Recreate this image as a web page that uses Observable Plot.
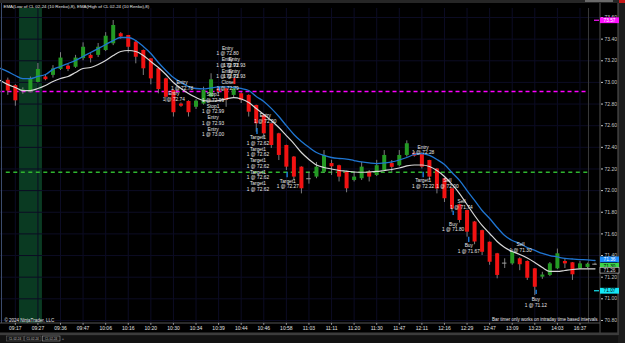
<!DOCTYPE html>
<html><head><meta charset="utf-8">
<script src="https://cdn.jsdelivr.net/npm/d3@7"></script>
<script src="https://cdn.jsdelivr.net/npm/@observablehq/plot@0.6"></script>
<style>
html,body{margin:0;padding:0;background:#000;}
#chart{width:625px;height:343px;overflow:hidden;}
svg{display:block;}
</style></head><body><div id="chart"></div>
<script>
// ---------- data ----------
const barOpen = [73.02,72.97,72.92,72.91,73.00,73.05,73.065,73.12,73.15,73.14,73.22,73.25,73.25,73.295,73.357,73.45,73.434,73.372,73.295,73.218,73.126,73.033,72.925,72.80,72.824,72.77,72.80,72.863,72.94,72.94,72.88,72.895,72.88,72.787,72.694,72.617,72.525,72.417,72.31,72.217,72.11,72.125,72.17,72.25,72.23,72.17,72.094,72.11,72.17,72.14,72.186,72.25,72.23,72.325,72.345,72.34,72.278,72.2,72.11,72.017,71.87,71.816,71.71,71.63,71.523,71.416,71.33,71.323,71.37,71.345,71.277,71.2,71.216,71.277,71.345,71.333,71.277,71.29,71.32];
const barClose = [72.92,72.83,72.93,73.03,73.12,73.025,73.125,73.225,73.12,73.225,73.325,73.22,73.325,73.427,73.526,73.42,73.325,73.233,73.126,73.033,72.934,72.863,72.72,72.78,72.72,72.827,72.925,73.024,72.91,72.833,72.94,72.833,72.725,72.617,72.525,72.417,72.325,72.217,72.125,72.017,72.11,72.217,72.325,72.22,72.125,72.017,72.125,72.217,72.125,72.23,72.325,72.215,72.325,72.433,72.318,72.217,72.125,72.015,71.925,71.83,71.724,71.616,71.525,71.43,71.338,71.216,71.33,71.43,71.315,71.19,71.107,71.22,71.323,71.416,71.323,71.222,71.323,71.32,71.32];
const barHigh = [73.04,72.98,72.95,73.05,73.175,73.07,73.155,73.275,73.165,73.25,73.366,73.265,73.36,73.46,73.572,73.46,73.434,73.387,73.30,73.22,73.13,73.04,72.93,72.81,72.83,72.84,72.956,73.08,72.956,72.945,72.96,72.905,72.885,72.79,72.70,72.62,72.53,72.42,72.315,72.22,72.17,72.26,72.37,72.28,72.235,72.175,72.17,72.26,72.186,72.28,72.37,72.278,72.37,72.46,72.36,72.35,72.28,72.205,72.115,72.02,71.875,71.82,71.715,71.635,71.525,71.42,71.37,71.455,71.38,71.35,71.28,71.245,71.335,71.46,71.37,71.335,71.345,71.33,71.33];
const barLow = [72.88,72.78,72.89,72.905,72.995,73.015,73.04,73.11,73.10,73.13,73.20,73.18,73.23,73.285,73.34,73.40,73.27,73.172,73.064,72.978,72.895,72.817,72.68,72.77,72.68,72.75,72.79,72.86,72.895,72.77,72.86,72.805,72.68,72.54,72.48,72.39,72.278,72.186,72.094,71.97,72.06,72.11,72.16,72.14,72.08,71.98,72.08,72.094,72.08,72.13,72.18,72.17,72.22,72.31,72.31,72.2,72.094,71.97,71.89,71.80,71.70,71.57,71.50,71.40,71.31,71.185,71.28,71.31,71.26,71.17,71.03,71.18,71.205,71.27,71.28,71.17,71.27,71.28,71.31];

// EMA series start one bar before the first visible bar
const emaHigh = [73.13,73.10,73.064,73.036,73.036,73.055,73.073,73.12,73.147,73.175,73.203,73.24,73.277,73.313,73.35,73.387,73.415,73.415,73.387,73.332,73.267,73.184,73.11,73.045,73.0,72.962,72.944,72.94,72.95,72.958,72.958,72.953,72.944,72.925,72.87,72.824,72.76,72.685,72.60,72.519,72.454,72.40,72.352,72.325,72.306,72.297,72.292,72.278,72.265,72.256,72.25,72.256,72.265,72.283,72.306,72.334,72.343,72.325,72.288,72.241,72.167,72.094,72.0,71.909,71.816,71.742,71.659,71.585,71.539,71.511,71.474,71.447,71.419,71.40,71.387,71.373,71.368,71.363,71.359,71.354];
const emaLow = [73.018,72.98,72.953,72.925,72.925,72.944,72.972,73.009,73.036,73.055,73.092,73.129,73.138,73.166,73.203,73.249,73.286,73.295,73.286,73.249,73.193,73.138,73.073,72.999,72.944,72.898,72.86,72.833,72.828,72.833,72.847,72.86,72.847,72.814,72.759,72.704,72.648,72.583,72.509,72.435,72.352,72.288,72.237,72.214,72.20,72.186,72.18,72.172,72.17,72.172,72.177,72.186,72.195,72.209,72.228,72.237,72.237,72.223,72.186,72.13,72.057,71.973,71.872,71.77,71.678,71.604,71.53,71.474,71.437,71.41,71.377,71.336,71.29,71.253,71.253,71.262,71.271,71.276,71.277,71.277];

const timeLabels = ["09:17","09:27","09:36","09:47","10:06","10:16","10:20","10:30","10:34","10:39","10:44","10:46","10:58","11:03","11:11","11:20","11:30","11:47","12:11","12:16","12:29","12:47","13:09","13:23","14:03","16:37"];
const timeLabelBars = [1,4,7,10,13,16,19,22,25,28,31,34,37,40,43,46,49,52,55,58,61,64,67,70,73,76];
const priceTicks = [70.8,71.0,71.2,71.4,71.6,71.8,72.0,72.2,72.4,72.6,72.8,73.0,73.2,73.4,73.6];

const sessionBars = [1.55, 4.6];
const magentaLevel = 72.916;
const greenLevel = 72.17;

const annoText = ["Entry\n1 @ 72.78","Entry\n1 @ 72.74","Entry\n1 @ 72.80","Entry\n1 @ 72.93","Entry\n1 @ 72.93","Entry\n1 @ 72.93","Entry\n1 @ 72.93","Close\n1 @ 72.79","Stop1\n1 @ 72.99","Stop1\n1 @ 72.99","Entry\n1 @ 72.93","Entry\n1 @ 73.00","Entry\n1 @ 72.90","Target1\n1 @ 72.62","Target1\n1 @ 72.62","Target1\n1 @ 72.62","Target1\n1 @ 72.62","Target1\n1 @ 72.62","Target1\n1 @ 72.27","Entry\n1 @ 72.28","Target1\n1 @ 72.22","Sell\n1 @ 72.00","Sell\n1 @ 71.74","Buy\n1 @ 71.80","Buy\n1 @ 71.67","Sell\n1 @ 71.30","Buy\n1 @ 71.12"];
const annoBar = [23.14,22.05,29.18,29.15,30.1,29.15,30.1,29.2,27.26,27.26,27.26,27.26,34.2,33.23,33.23,33.23,33.23,33.23,37.19,55.17,55.17,58.4,60.26,59.16,61.23,68.1,70.13];
const annoPrice = [72.973,72.872,73.295,73.187,73.187,73.082,73.082,72.976,72.863,72.756,72.653,72.546,72.671,72.468,72.36,72.253,72.147,72.041,72.063,72.377,72.07,72.069,71.874,71.667,71.467,71.479,70.966];

const buyMarkBar = [28.1,33.1,37.1,55.17,59.16,61.23,70.18];
const buyMarkTop = [72.955,72.574,72.17,72.17,71.81,71.57,71.08];
const buyMarkBottom = [72.915,72.519,72.12,72.12,71.77,71.52,71.04];
const sellMarkBar = [30.1];
const sellMarkTop = [73.036];
const sellMarkBottom = [72.98];

const markerPrices = [73.57, 71.30, 71.36, 71.26, 71.07];
const markerLabels = ["73.57","71.30","71.36","71.26","71.07"];

// ---------- build ----------
const UP = "#249a24", DOWN = "#f21212", FLAT = "#a0a0a0";
const bars = barOpen.map((o, i) => ({i, o, c: barClose[i], h: barHigh[i], l: barLow[i]}));
const bodies = bars.filter(d => d.o !== d.c);
const dojis = bars.filter(d => d.o === d.c);
const emaRows = emaHigh.map((v, k) => ({i: k - 1, hi: v, lo: emaLow[k]}));
const annos = annoText.map((t, k) => ({t, x: annoBar[k], y: annoPrice[k]}));
const buys = buyMarkBar.map((x, k) => ({x, y1: buyMarkBottom[k], y2: buyMarkTop[k]}));
const sells = sellMarkBar.map((x, k) => ({x, y1: sellMarkBottom[k], y2: sellMarkTop[k]}));

const font = "'Liberation Sans', Arial, sans-serif";

const chart = Plot.plot({
  width: 625, height: 343,
  marginTop: 8, marginBottom: 20, marginLeft: 0, marginRight: 25,
  style: {background: "#000", color: "#ddd", fontFamily: font, fontSize: "5px"},
  x: {domain: [-0.9696, 78.726]},
  y: {domain: [70.7719, 73.6832]},
  color: {type: "identity"},
  marks: [
    Plot.rect([sessionBars], {x1: d => d[0], x2: d => d[1], fill: "#0a3a22"}),
    Plot.gridY(priceTicks, {stroke: "#0c0c24", strokeOpacity: 1}),
    Plot.gridX(timeLabelBars, {stroke: "#0c0c24", strokeOpacity: 1}),
    Plot.ruleY([magentaLevel], {x1: -0.9, x2: 77.2, stroke: "#ff00ff", strokeWidth: 1.5, strokeDasharray: "4,3"}),
    Plot.ruleY([greenLevel], {x1: -0.2, x2: 77.2, stroke: "#2fb52f", strokeWidth: 1.3, strokeDasharray: "4,3.5"}),
    Plot.ruleX([77.13], {stroke: "#3a3a3a"}),
    Plot.ruleX(bars, {x: "i", y1: "l", y2: "h", stroke: "#8a8a8a", strokeWidth: 0.9}),
    Plot.ruleX(bodies, {x: "i", y1: "o", y2: "c", stroke: d => d.c > d.o ? UP : DOWN, strokeWidth: 4}),
    Plot.ruleY(dojis, {y: "o", x1: d => d.i - 0.3, x2: d => d.i + 0.3, stroke: FLAT, strokeWidth: 1}),
    Plot.line(emaRows, {x: "i", y: "lo", stroke: "#d8d8d8", strokeWidth: 1.2, curve: "monotone-x"}),
    Plot.line(emaRows, {x: "i", y: "hi", stroke: "#1f76d2", strokeWidth: 1.3, curve: "monotone-x"}),
    Plot.ruleX(buys, {x: "x", y1: "y1", y2: "y2", stroke: "#1e90ff", strokeWidth: 1.2}),
    Plot.ruleX(sells, {x: "x", y1: "y1", y2: "y2", stroke: "#ff2020", strokeWidth: 2}),
    Plot.text(annos, {x: "x", y: "y", text: "t", fill: "#e8e8e8", fontSize: 4.8, lineHeight: 1.17, textAnchor: "middle"}),
    Plot.axisX(timeLabelBars, {anchor: "bottom", tickSize: 1.5, tickPadding: 1.2, tickFormat: d => timeLabels[timeLabelBars.indexOf(d)], color: "#e0e0e0", fontSize: 5, label: null}),
    Plot.axisY(priceTicks, {anchor: "right", tickSize: 2, tickPadding: 2, tickFormat: d => d.toFixed(2), color: "#c8c8c8", fontSize: 5, label: null}),
    Plot.text(["EMA(Low of CL 02-24 (10 Renko),8), EMA(High of CL 02-24 (10 Renko),8)"], {frameAnchor: "top-left", dx: 3, dy: -3.5, fill: "#e6e6e6", fontSize: 4.4}),
    Plot.text(["© 2024 NinjaTrader, LLC"], {frameAnchor: "bottom-left", dx: 4, dy: -2, fill: "#e6e6e6", fontSize: 4.5}),
    Plot.text(["Bar timer only works on intraday time based intervals"], {frameAnchor: "bottom-right", dx: -3, dy: -3, fill: "#e6e6e6", fontSize: 4.5})
  ]
});

document.getElementById("chart").append(chart);

// ---------- window chrome and price markers (positioned through Plot's scales) ----------
const svg = d3.select(chart);
const ys = chart.scale("y");
svg.append("rect").attr("x", 0).attr("y", 0).attr("width", 625).attr("height", 3).attr("fill", "#262626");
svg.append("rect").attr("x", 585).attr("y", 0).attr("width", 28).attr("height", 2).attr("fill", "#6a6a6a");
svg.append("rect").attr("x", 619).attr("y", 0).attr("width", 6).attr("height", 3).attr("fill", "#c81818");
svg.append("line").attr("x1", 1.5).attr("x2", 1.5).attr("y1", 3).attr("y2", 323).attr("stroke", "#3b4b6b");
svg.append("line").attr("x1", 0).attr("x2", 600).attr("y1", 323).attr("y2", 323).attr("stroke", "#555");
svg.append("line").attr("x1", 600).attr("x2", 600).attr("y1", 3).attr("y2", 333).attr("stroke", "#505050");
svg.append("rect").attr("x", 618).attr("y", 3).attr("width", 7).attr("height", 340).attr("fill", "#1c1c1c");
svg.append("line").attr("x1", 618).attr("x2", 618).attr("y1", 3).attr("y2", 335).attr("stroke", "#5a5a5a");
svg.append("rect").attr("x", 0).attr("y", 332.5).attr("width", 618).attr("height", 3).attr("fill", "#3c3c3c");
svg.append("rect").attr("x", 0).attr("y", 335.5).attr("width", 618).attr("height", 7.5).attr("fill", "#121212");
const tabs = [[6.7, 16.6, "#666"], [24.3, 16.7, "#666"], [42.3, 17.7, "#aaa"]];
tabs.forEach(([x, w, s]) => {
  svg.append("rect").attr("x", x).attr("y", 336).attr("width", w).attr("height", 5).attr("fill", "#161616").attr("stroke", s).attr("stroke-width", 0.5);
  svg.append("text").attr("x", x + w / 2).attr("y", 339.6).attr("text-anchor", "middle").attr("font-size", 3).attr("font-family", font).attr("fill", "#bbb").text("CL 02-24");
});
svg.append("text").attr("x", 63).attr("y", 339.8).attr("font-size", 4).attr("font-family", font).attr("fill", "#bbb").text("+");

const markerStyle = [
  {fill: "#ff10ff", stroke: "none", text: "#fff", dash: true},
  {fill: "#3cd44a", stroke: "none", text: "#000", dash: false},
  {fill: "#1e90ff", stroke: "none", text: "#fff", dash: false},
  {fill: "#000", stroke: "#e0e0e0", text: "#ddd", dash: false},
  {fill: "#14e6f5", stroke: "none", text: "#000", dash: true}
];
markerPrices.forEach((p, k) => {
  const y = ys.apply(p), st = markerStyle[k];
  if (st.dash) svg.append("line").attr("x1", 594).attr("x2", 599).attr("y1", y).attr("y2", y).attr("stroke", st.fill).attr("stroke-width", 1.2);
  svg.append("rect").attr("x", 600).attr("y", y - 2.9).attr("width", 19).attr("height", 5.8).attr("fill", st.fill).attr("stroke", st.stroke).attr("stroke-width", 0.6);
  svg.append("text").attr("x", 609.5).attr("y", y + 1.7).attr("text-anchor", "middle").attr("font-size", 4.8).attr("font-family", font).attr("fill", st.text).text(markerLabels[k]);
});
</script></body></html>
